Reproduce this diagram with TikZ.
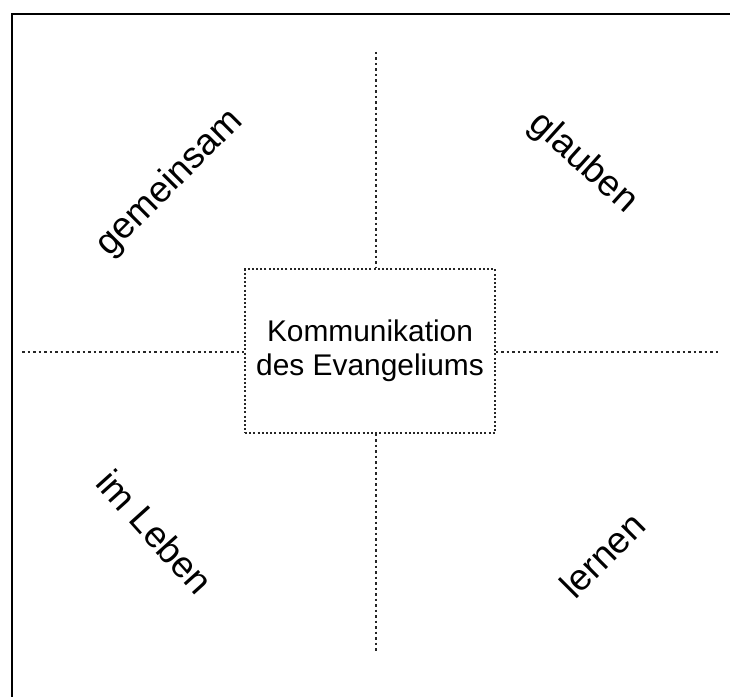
\documentclass[tikz,border=0pt]{standalone}
\usepackage{fontspec}
\setmainfont{Liberation Sans}
\begin{document}
\begin{tikzpicture}[x=1bp,y=-1bp,
  frameline/.style={line width=2.2bp,black},
  axisline/.style={line width=1.2bp,dash pattern=on 2.5bp off 3bp,black!85},
  centerbox/.style={draw,line width=1.2bp,dash pattern=on 2bp off 2.2bp,black!85,minimum width=250bp,minimum height=164bp,inner sep=0pt,align=center,text=black,font=\fontsize{30}{34}\selectfont},
  quadlabel/.style={inner sep=0pt,text=black,font=\fontsize{37}{40}\selectfont}]
\useasboundingbox (0,0) rectangle (730,697);
\fill[white] (0,0) rectangle (730,697);
\coordinate (ftr) at (730,14);
\coordinate (ftl) at (12,14);
\coordinate (fbl) at (12,697);
\draw[frameline] (ftr) -- (ftl) -- (fbl);
\node[centerbox] (box) at (370,351) {Kommunikation\\des Evangeliums};
\coordinate (vtop) at (376,52);
\coordinate (vbot) at (376,652);
\coordinate (hleft) at (22,352);
\coordinate (hright) at (719,352);
\draw[axisline] (vtop) -- (vtop |- box.north);
\draw[axisline] (vbot |- box.south) -- (vbot);
\draw[axisline] (hleft) -- (hleft -| box.west);
\draw[axisline] (hright -| box.east) -- (hright);
\node[quadlabel,rotate=45] (gem) at (170,183) {gemeinsam};
\node[quadlabel,rotate=-42] (gla) at (583,163) {glauben};
\node[quadlabel,rotate=-48] (leb) at (155,532) {im Leben};
\node[quadlabel,rotate=45] (ler) at (602,555) {lernen};
\end{tikzpicture}
\end{document}
